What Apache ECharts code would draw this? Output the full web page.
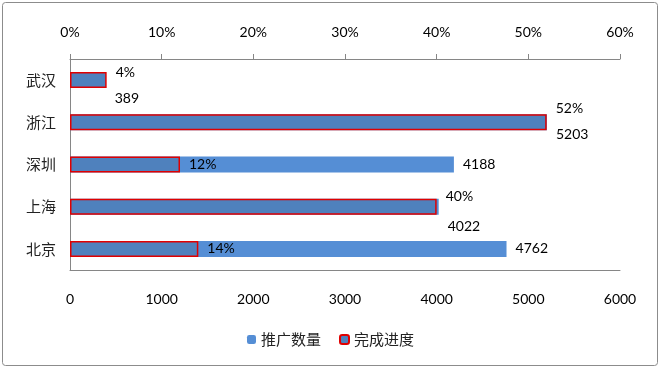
<!DOCTYPE html>
<html><head><meta charset="utf-8">
<script src="https://cdn.jsdelivr.net/npm/echarts@6/dist/echarts.min.js"></script>
<style>html,body{margin:0;padding:0;background:#fff}#c{width:661px;height:369px}</style>
</head><body><div id="c"></div>
<script>
const categories = ['北京', '上海', '深圳', '浙江', '武汉'];
const counts = [4762, 4022, 4188, 5203, 389];
const progress = [0.14, 0.40, 0.12, 0.52, 0.04];
const countTicks = [0, 1000, 2000, 3000, 4000, 5000, 6000];
const pctTicks = [0, 0.1, 0.2, 0.3, 0.4, 0.5, 0.6];
const seriesNames = ['推广数量', '完成进度'];

// label vertical offsets (presentation only)
const countOffsets = [0, 20, 0, 12, 18];
const pctOffsets = [0, -10, 0, -14, -8];

const font = '"Lato","Noto Sans","Noto Sans CJK SC",sans-serif';
const chart = echarts.init(document.getElementById('c'));
chart.setOption({
  animation: false,
  textStyle: { fontFamily: font },
  graphic: [{ type: 'rect', shape: { x: 2.5, y: 2.5, width: 655, height: 363, r: 3 }, style: { fill: 'none', stroke: '#8c8c8c', lineWidth: 1 }, silent: true }],
  grid: { left: 70, right: 41, top: 59, bottom: 99 },
  legend: {
    bottom: 17, left: 'center', itemWidth: 9, itemHeight: 9, itemGap: 18,
    textStyle: { fontSize: 15, color: '#222', fontFamily: '"Noto Sans CJK SC",sans-serif' },
    data: seriesNames
  },
  xAxis: [
    { type: 'value', position: 'bottom', min: countTicks[0], max: countTicks[countTicks.length - 1], interval: 1000,
      axisLine: { show: true, onZero: false, lineStyle: { color: '#868686' } }, axisTick: { show: false },
      splitLine: { show: false },
      axisLabel: { color: '#000', fontSize: 14, margin: 22, formatter: v => String(v) } },
    { type: 'value', position: 'top', min: pctTicks[0], max: pctTicks[pctTicks.length - 1], interval: 0.1,
      axisLine: { show: true, onZero: false, lineStyle: { color: '#868686' } }, axisTick: { show: true, length: 5, lineStyle: { color: '#868686' } },
      splitLine: { show: false },
      axisLabel: { color: '#000', fontSize: 14, margin: 20, formatter: v => Math.round(v * 100) + '%' } }
  ],
  yAxis: {
    type: 'category', data: categories, position: 'left',
    axisLine: { show: true, onZero: false, lineStyle: { color: '#868686' } }, axisTick: { show: false },
    splitLine: { show: false },
    axisLabel: { color: '#222', fontSize: 15, margin: 14, fontFamily: '"Noto Sans CJK SC",sans-serif' }
  },
  series: [
    { name: seriesNames[0], type: 'bar', xAxisIndex: 0, barWidth: 16,
      itemStyle: { color: '#558ED5' },
      data: counts.map((v, i) => ({ value: v, label: { offset: [0, countOffsets[i]] } })),
      label: { show: true, position: 'right', distance: 9, color: '#000', fontSize: 14 } },
    { name: seriesNames[1], type: 'bar', xAxisIndex: 1, barWidth: 16, barGap: '-100%',
      itemStyle: { color: '#4F81BD', borderColor: '#E00000', borderWidth: 1.5 },
      data: progress.map((v, i) => ({ value: v, label: { offset: [0, pctOffsets[i]] } })),
      label: { show: true, position: 'right', distance: 9, color: '#000', fontSize: 14,
        formatter: p => Math.round(p.value * 100) + '%' } }
  ]
});
</script></body></html>
